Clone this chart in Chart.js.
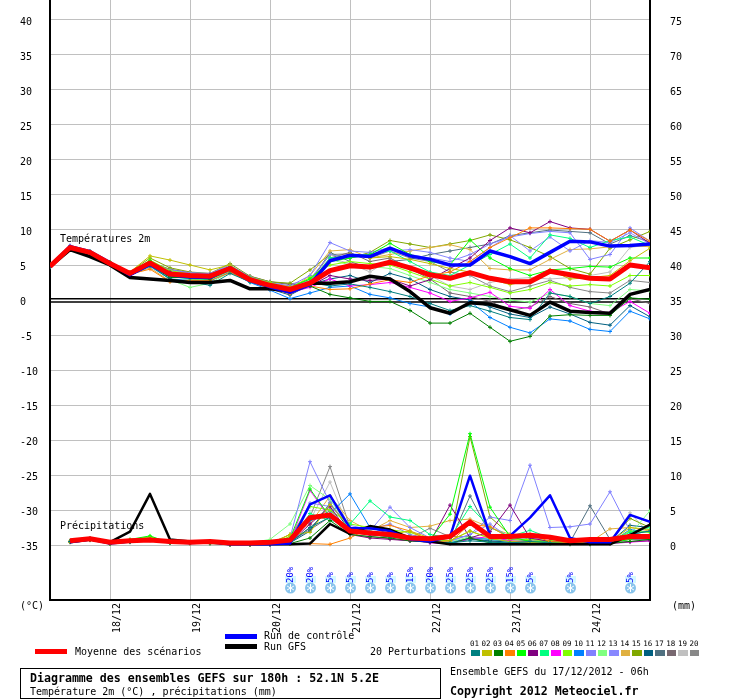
<!DOCTYPE html>
<html><head><meta charset="utf-8">
<script src="https://cdn.jsdelivr.net/npm/chart.js@4.4.0/dist/chart.umd.min.js"></script>
<style>
html,body{margin:0;padding:0;background:#fff;}
#wrap{position:relative;width:740px;height:700px;overflow:hidden;font-family:"DejaVu Sans Mono",monospace;color:#000;background:#fff;}
#c{position:absolute;left:0;top:0;}
.t{position:absolute;white-space:pre;font-size:10px;line-height:12px;}
.b{font-weight:bold;font-size:11.6px;line-height:14px;}
.sw{position:absolute;}
</style></head>
<body><div id="wrap"><canvas id="c" width="740" height="700"></canvas></div>
<script>
// ---- time axis (6-hourly steps from 17/12 06h) ----
const steps = [0,1,2,3,4,5,6,7,8,9,10,11,12,13,14,15,16,17,18,19,20,21,22,23,24,25,26,27,28,29,30];
const precipSteps = [1,2,3,4,5,6,7,8,9,10,11,12,13,14,15,16,17,18,19,20,21,22,23,24,25,26,27,28,29,30];
const dateSteps = [3,7,11,15,19,23,27];
const dateLabels = ["18/12","19/12","20/12","21/12","22/12","23/12","24/12"];
const tempTicks = [-35,-30,-25,-20,-15,-10,-5,0,5,10,15,20,25,30,35,40];
const mmTicks = [0,5,10,15,20,25,30,35,40,45,50,55,60,65,70,75];

// ---- temperature 2m (°C) ----
const tempMean    = [4.8,7.5,6.8,5.2,3.8,5.3,3.7,3.5,3.4,4.5,2.9,2.1,1.5,2.4,4.2,4.9,4.7,5.4,4.6,3.6,3.1,3.9,3.1,2.6,2.6,4.1,3.6,3.1,3.0,5.0,4.6];
const tempControl = [4.8,7.6,6.9,5.3,3.6,5.1,3.6,3.3,3.2,4.6,2.8,1.9,1.1,2.2,5.6,6.4,6.2,7.4,6.3,5.8,5.0,5.0,7.0,6.2,5.2,6.8,8.4,8.3,7.7,7.8,8.0];
const tempGFS     = [4.8,7.2,6.2,5.0,3.2,3.0,2.8,2.5,2.5,2.8,1.6,1.6,1.3,2.4,2.4,2.6,3.4,3.0,1.2,-1.1,-1.9,-0.4,-0.6,-1.4,-2.2,-0.3,-1.6,-1.8,-1.9,0.8,1.5];
const tempP01 = [4.7,7.6,6.9,5.3,3.5,4.9,3.0,2.6,2.1,3.8,2.6,1.9,1.2,2.5,2.0,2.3,1.8,1.2,0.5,-0.5,-1.5,-0.8,-1.6,-2.5,-2.8,1.0,0.5,-0.5,0.5,2.4,5.5];
const tempP02 = [4.9,7.4,6.8,5.4,4.0,6.3,5.7,5.0,4.3,5.0,3.0,2.3,1.9,2.5,5.5,6.6,6.0,6.2,5.8,5.2,4.5,4.0,3.0,2.2,2.8,4.3,3.0,3.2,3.5,5.6,7.4];
const tempP03 = [4.8,7.5,6.7,5.1,3.6,5.0,3.2,3.2,3.0,4.3,2.8,1.7,1.6,2.0,0.8,0.3,-0.2,-0.2,-1.5,-3.3,-3.3,-1.9,-3.9,-5.9,-5.2,-2.3,-2.1,-2.2,-2.2,0.3,0.1];
const tempP04 = [4.9,7.6,6.9,5.2,3.7,4.4,2.6,2.8,2.8,3.9,2.7,1.6,0.9,2.0,1.5,1.6,2.3,2.9,2.5,3.5,4.0,5.5,7.5,8.9,10.3,10.3,10.2,10.1,8.4,10.0,8.4];
const tempP05 = [4.8,7.5,6.8,5.4,3.9,5.6,3.5,3.4,3.5,4.7,3.1,2.2,1.8,3.0,5.5,6.0,6.5,8.1,6.5,5.5,5.0,8.6,6.0,4.5,3.5,4.3,4.5,4.8,4.7,6.0,6.0];
const tempP06 = [4.7,7.6,6.8,5.3,3.9,5.2,4.0,3.3,3.6,4.4,3.0,2.0,1.3,2.0,3.5,3.0,2.8,3.0,2.0,2.9,4.5,6.0,8.5,10.3,9.6,11.2,10.3,10.1,8.4,10.0,8.1];
const tempP07 = [4.8,7.5,6.9,5.3,3.8,5.4,3.4,3.0,2.9,4.2,2.6,1.9,1.4,2.5,6.0,6.3,6.5,7.0,5.5,4.0,3.5,5.0,6.5,8.0,6.0,9.3,8.8,7.5,8.5,9.0,7.8];
const tempP08 = [4.7,7.6,6.8,5.2,3.6,5.0,3.6,3.6,3.4,4.6,2.9,2.0,1.1,1.8,3.0,2.0,2.2,2.5,1.8,1.0,-0.2,0.3,1.1,-0.9,-1.2,1.5,-0.8,-1.6,-1.8,-0.2,-1.9];
const tempP09 = [4.8,7.5,6.8,5.3,3.9,5.7,4.2,3.7,3.5,4.8,3.2,2.5,1.7,3.2,5.0,5.5,5.2,5.0,4.0,3.0,2.0,2.5,1.8,1.0,1.5,2.5,2.0,2.2,2.0,3.5,3.5];
const tempP10 = [4.8,7.7,6.9,5.2,3.5,4.8,3.0,2.8,2.7,4.0,2.5,1.4,0.2,1.0,1.8,2.0,0.8,0.3,-0.5,-1.0,-2.0,-0.2,-2.5,-3.9,-4.7,-2.7,-3.0,-4.2,-4.5,-1.6,-2.7];
const tempP11 = [4.8,7.8,7.0,5.4,3.8,5.2,4.3,3.9,3.8,5.0,3.3,2.5,2.0,3.5,8.2,7.0,6.8,7.5,6.5,6.0,5.5,6.5,8.0,9.0,9.5,9.8,9.6,5.8,6.5,10.3,8.4];
const tempP12 = [4.8,7.5,6.8,5.2,3.7,5.1,2.9,1.8,2.4,4.0,2.7,1.8,1.0,2.8,5.8,5.0,4.8,4.5,3.5,2.5,1.5,1.0,0.5,0.0,-0.3,1.0,0.5,-0.5,-0.8,1.5,1.3];
const tempP13 = [4.8,7.6,6.9,5.3,3.8,5.3,4.1,3.8,3.7,4.9,3.2,2.4,1.8,3.0,6.5,6.0,6.6,7.0,7.2,6.8,6.0,5.5,7.5,9.2,7.0,9.0,7.0,8.5,8.2,9.6,8.0];
const tempP14 = [5.1,7.4,6.7,5.1,3.6,4.6,2.7,2.9,3.0,4.1,2.8,1.8,1.5,3.5,7.0,7.2,6.0,6.5,7.0,7.5,7.9,7.2,4.5,4.3,4.3,5.8,7.2,7.3,7.6,7.8,7.6];
const tempP15 = [4.8,7.5,6.8,5.4,4.0,6.0,4.6,4.0,3.8,5.2,3.4,2.6,2.4,4.3,6.5,6.0,6.8,8.5,8.0,7.5,8.0,8.5,9.3,8.6,7.5,6.2,4.5,3.7,7.4,8.6,9.8];
const tempP16 = [4.7,7.5,6.8,5.2,3.7,5.0,3.3,3.1,3.1,4.2,2.6,1.6,0.7,2.2,3.0,3.5,2.5,3.8,3.0,1.5,0.5,0.0,-1.0,-2.0,-2.5,-1.0,-2.0,-3.2,-3.6,-0.8,-2.4];
const tempP17 = [4.8,7.6,6.9,5.3,3.8,5.5,3.8,3.4,3.3,4.5,2.9,2.1,1.2,2.6,6.8,5.5,4.5,5.5,5.8,6.5,7.0,7.5,8.0,9.2,9.6,10.0,9.8,9.6,8.0,9.2,8.3];
const tempP18 = [4.8,7.5,6.8,5.3,3.9,5.4,4.4,3.9,3.7,4.8,3.4,2.6,2.2,2.3,6.0,6.8,5.5,6.0,4.5,3.0,1.0,0.5,-0.2,-1.5,-1.0,0.5,-0.5,-1.0,-2.0,0.2,-0.5];
const tempP19 = [4.8,7.5,6.8,5.3,3.8,5.2,4.0,3.6,3.6,4.6,3.3,2.4,2.0,2.9,6.0,5.2,4.0,5.8,4.5,3.5,2.0,1.5,2.5,3.0,3.2,3.0,3.2,3.5,4.0,7.5,7.9];
const tempP20 = [4.8,7.5,6.8,5.2,3.8,5.5,4.3,3.9,3.7,4.7,3.2,2.6,2.3,2.7,6.5,6.6,6.0,7.0,6.0,5.5,4.0,3.5,2.0,1.2,2.0,2.8,1.8,1.2,1.0,2.8,2.5];

// ---- precipitation (mm per 6h), steps 1..30 ----
const precMean    = [0.6,0.9,0.4,0.6,0.7,0.5,0.4,0.5,0.3,0.3,0.4,0.7,3.9,4.3,2.0,1.7,1.5,1.0,0.9,1.2,3.3,1.2,1.2,1.4,1.1,0.6,0.8,0.8,1.2,1.2];
const precControl = [0.4,0.8,0.2,0.5,0.7,0.4,0.3,0.4,0.1,0.1,0.1,0.2,5.8,7.1,2.4,2.4,2.0,0.8,0.5,1.2,9.9,1.4,1.3,3.9,7.1,1.0,0.4,0.4,4.3,3.3];
const precGFS     = [0.4,0.8,0.4,1.9,7.3,0.8,0.5,0.5,0.1,0.1,0.1,0.1,0.2,3.0,1.6,2.7,2.2,1.0,0.5,0.1,0.1,0.1,0.1,0.1,0.1,0.1,0.1,0.1,1.4,2.9];
const precP01 = [0.5,0.9,0.2,0.5,0.8,0.3,0.3,0.3,0.1,0.1,0.1,0.3,2.5,4.0,2.0,1.5,1.2,0.8,0.5,0.3,0.6,0.4,0.3,0.5,0.3,0.2,0.3,0.4,1.5,2.0];
const precP02 = [0.4,0.8,0.2,0.6,1.0,0.3,0.2,0.3,0.1,0.1,0.2,1.5,1.8,5.8,2.5,1.8,1.5,2.0,1.0,0.6,2.0,0.9,0.5,0.4,0.3,0.2,0.4,0.5,2.5,2.2];
const precP03 = [0.5,0.7,0.2,0.4,0.7,0.3,0.3,0.2,0.1,0.1,0.1,0.2,1.0,3.5,1.5,1.2,1.0,0.6,0.4,0.2,1.0,0.3,0.2,0.3,0.2,0.1,0.1,0.2,0.5,0.8];
const precP04 = [0.5,0.8,0.2,0.7,0.8,0.3,0.4,0.3,0.1,0.1,0.1,0.2,0.2,0.1,1.0,2.5,2.8,2.0,0.6,0.4,3.0,2.6,1.0,1.5,0.5,0.3,0.2,0.4,1.0,1.2];
const precP05 = [0.5,0.8,0.2,0.8,1.3,0.3,0.3,0.3,0.1,0.1,0.3,0.9,8.0,4.0,2.0,1.8,1.2,1.0,0.8,4.4,15.9,5.4,1.2,0.5,0.4,0.3,0.2,0.3,0.8,1.5];
const precP06 = [0.4,0.7,0.2,0.5,0.7,0.3,0.2,0.3,0.1,0.1,0.1,0.3,3.0,5.5,1.5,1.0,0.8,0.6,0.4,5.7,1.0,1.9,5.7,1.0,0.5,0.3,0.2,0.3,0.5,0.6];
const precP07 = [0.5,0.8,0.2,0.6,0.9,0.3,0.3,0.3,0.1,0.1,0.2,0.6,4.5,3.5,3.0,6.3,4.0,3.5,1.5,1.0,5.5,2.5,1.2,2.1,1.0,0.5,0.4,0.6,1.8,2.5];
const precP08 = [0.5,0.8,0.2,0.5,0.8,0.3,0.3,0.3,0.1,0.1,0.1,0.5,7.8,3.8,2.0,1.4,1.5,0.8,0.3,0.2,0.9,1.2,0.6,0.4,0.3,0.2,0.3,0.2,0.4,0.6];
const precP09 = [0.5,0.8,0.2,0.7,1.2,0.3,0.3,0.3,0.1,0.1,0.2,1.2,5.5,5.0,3.0,2.5,2.2,1.8,0.8,0.6,2.0,1.0,0.7,0.8,0.6,0.4,0.3,0.5,2.0,1.8];
const precP10 = [0.5,0.9,0.2,0.5,0.8,0.3,0.3,0.3,0.1,0.1,0.1,0.4,3.5,4.5,7.3,2.5,1.6,1.2,0.5,0.3,1.0,0.8,0.5,0.4,0.3,0.2,0.2,0.3,2.2,1.8];
const precP11 = [0.5,0.8,0.2,0.6,1.0,0.3,0.3,0.3,0.1,0.1,0.2,1.0,11.9,6.0,2.5,2.0,5.4,2.5,1.0,0.6,1.5,4.0,3.5,11.4,2.5,2.6,3.0,7.6,2.0,0.8];
const precP12 = [0.5,0.8,0.2,0.6,1.0,0.3,0.3,0.3,0.1,0.3,0.8,3.0,8.5,6.5,2.5,2.0,1.5,1.0,0.6,0.4,1.2,0.8,0.5,0.4,0.3,0.2,0.2,0.4,1.5,4.9];
const precP13 = [0.5,0.8,0.2,0.6,0.9,0.3,0.3,0.3,0.1,0.1,0.2,0.8,6.0,5.5,2.8,2.2,3.0,1.5,0.8,0.5,1.5,3.0,1.0,0.8,1.0,0.8,0.6,0.5,1.0,1.5];
const precP14 = [0.6,0.9,0.2,0.6,1.0,0.3,0.3,0.4,0.1,0.1,0.2,1.5,3.0,7.0,3.5,2.0,3.5,2.5,2.7,3.5,3.7,2.5,1.5,1.5,1.0,0.5,0.4,2.3,2.5,2.0];
const precP15 = [0.5,0.8,0.2,0.6,1.1,0.3,0.3,0.3,0.1,0.1,0.2,1.5,3.5,4.5,2.0,1.8,1.5,1.3,0.8,0.5,15.5,4.0,1.5,0.8,0.6,0.4,0.3,0.5,3.8,2.5];
const precP16 = [0.5,0.8,0.2,0.5,0.8,0.3,0.3,0.3,0.1,0.1,0.1,0.3,2.0,6.0,2.0,1.5,1.2,1.0,0.5,0.3,0.8,0.6,0.4,0.3,0.3,0.2,0.3,0.4,2.8,2.5];
const precP17 = [0.5,0.8,0.2,0.6,0.9,0.3,0.3,0.3,0.1,0.1,0.1,0.4,2.5,5.0,1.8,1.5,1.2,0.8,0.5,0.4,7.0,1.5,0.8,0.6,0.5,0.4,5.6,0.8,1.5,2.0];
const precP18 = [0.5,0.9,0.2,0.5,0.8,0.3,0.3,0.3,0.1,0.1,0.1,0.5,2.2,4.0,1.5,1.2,0.9,0.6,0.4,0.3,0.9,0.5,0.4,0.3,0.3,0.2,0.2,0.3,0.8,0.8];
const precP19 = [0.5,0.8,0.2,0.6,1.0,0.3,0.3,0.3,0.1,0.1,0.1,0.5,3.5,9.0,2.0,1.8,1.2,0.8,0.5,0.3,1.0,0.6,0.4,0.4,0.3,0.2,0.3,0.5,4.6,1.5];
const precP20 = [0.5,1.0,0.2,0.6,1.0,0.3,0.3,0.3,0.1,0.1,0.2,0.8,4.0,11.2,2.5,2.0,1.5,1.0,2.4,1.2,1.2,0.8,0.5,0.4,0.3,0.3,0.3,0.4,1.0,1.0];

// ---- snow probability markers ----
const snowSteps = [12,13,14,15,16,17,18,19,20,21,22,23,24,26,29];
const snowPct   = [20,20,5,5,5,5,15,20,25,25,25,15,5,5,5];

// ---- members ----
const memberNames  = ["01","02","03","04","05","06","07","08","09","10","11","12","13","14","15","16","17","18","19","20"];
const memberColors = ["#008080","#c0c000","#008000","#ff8000","#00ff00","#800080","#00ff80","#ff00ff","#80ff00","#0080ff","#8080ff","#80ff80","#8888ff","#e0b040","#80a800","#006080","#507080","#786870","#c0c0c0","#888888"];
const memberTemps = [tempP01,tempP02,tempP03,tempP04,tempP05,tempP06,tempP07,tempP08,tempP09,tempP10,tempP11,tempP12,tempP13,tempP14,tempP15,tempP16,tempP17,tempP18,tempP19,tempP20];
const memberPrecs = [precP01,precP02,precP03,precP04,precP05,precP06,precP07,precP08,precP09,precP10,precP11,precP12,precP13,precP14,precP15,precP16,precP17,precP18,precP19,precP20];

const FONT = '"DejaVu Sans Mono", monospace';
const pts = (xs, ys) => xs.map((x, i) => ({x: x, y: ys[i]}));

const datasets = [];
function thin(data, color, axis) {
  return {data, yAxisID: axis, borderColor: color, backgroundColor: color, borderWidth: 1,
    pointStyle: 'cross', pointRadius: 2, pointBorderWidth: 1, pointBorderColor: color, order: 10, fill: false};
}
function thick(data, color, w, axis, ord) {
  return {data, yAxisID: axis, borderColor: color, backgroundColor: color, borderWidth: w,
    pointRadius: 0, order: ord, fill: false, borderJoinStyle: 'round'};
}
memberTemps.forEach((a, i) => datasets.push(thin(pts(steps, a), memberColors[i], 'y')));
memberPrecs.forEach((a, i) => datasets.push(thin(pts(precipSteps, a), memberColors[i], 'y2')));
datasets.push(thick(pts(steps, tempGFS), '#000000', 3.5, 'y', 3));
datasets.push(thick(pts(precipSteps, precGFS), '#000000', 2.5, 'y2', 3));
datasets.push(thick(pts(steps, tempControl), '#0000ff', 3.5, 'y', 2));
datasets.push(thick(pts(precipSteps, precControl), '#0000ff', 2.5, 'y2', 2));
datasets.push(thick(pts(steps, tempMean), '#ff0000', 5, 'y', 1));
datasets.push(thick(pts(precipSteps, precMean), '#ff0000', 5, 'y2', 1));

const zeroLine = {
  id: 'zeroLine',
  beforeDatasetsDraw(chart) {
    const {ctx, chartArea, scales} = chart;
    const y0 = scales.y.getPixelForValue(0);
    ctx.save();
    ctx.strokeStyle = '#000';
    ctx.lineWidth = 1.6;
    ctx.beginPath();
    ctx.moveTo(chartArea.left, y0 - 1.2); ctx.lineTo(chartArea.right, y0 - 1.2);
    ctx.moveTo(chartArea.left, y0 + 2.0); ctx.lineTo(chartArea.right, y0 + 2.0);
    ctx.stroke();
    ctx.restore();
  }
};

const annotations = {
  id: 'annotations',
  afterDatasetsDraw(chart) {
    const {ctx, chartArea, scales} = chart;
    ctx.save();
    ctx.fillStyle = '#000';
    ctx.font = '10px ' + FONT;
    ctx.textBaseline = 'middle';
    ctx.textAlign = 'left';
    ctx.fillText('Températures 2m', chartArea.left + 10, 239);
    ctx.fillText('Précipitations', chartArea.left + 10, 526);
    // snow icons
    snowSteps.forEach((s, i) => {
      const x = Math.round(scales.x.getPixelForValue(s));
      const cy = 588;
      ctx.fillStyle = '#d4f8ff';
      ctx.fillRect(x - 5, 576, 11, 7);
      ctx.save();
      ctx.translate(x + 0.5, 583);
      ctx.rotate(-Math.PI / 2);
      ctx.fillStyle = '#0000ff';
      ctx.font = '9px ' + FONT;
      ctx.textAlign = 'left';
      ctx.textBaseline = 'middle';
      ctx.fillText(snowPct[i] + '%', 0, 0);
      ctx.restore();
      ctx.beginPath();
      ctx.arc(x + 0.5, cy, 5.5, 0, Math.PI * 2);
      ctx.fillStyle = '#88c4ec';
      ctx.fill();
      ctx.strokeStyle = '#ffffff';
      ctx.lineWidth = 1;
      ctx.beginPath();
      for (let k = 0; k < 3; k++) {
        const a = k * Math.PI / 3 + Math.PI / 2;
        ctx.moveTo(x + 0.5 + Math.cos(a) * 4, cy + Math.sin(a) * 4);
        ctx.lineTo(x + 0.5 - Math.cos(a) * 4, cy - Math.sin(a) * 4);
      }
      ctx.stroke();
    });
    ctx.restore();
  }
};

function noPad(s) { s.paddingTop = 0; s.paddingBottom = 0; s.paddingLeft = 0; s.paddingRight = 0; }

new Chart(document.getElementById('c'), {
  type: 'line',
  data: {datasets},
  options: {
    responsive: false,
    animation: false,
    devicePixelRatio: 1,
    layout: {padding: {left: 20, right: 0, top: 0, bottom: 0}, autoPadding: false},
    plugins: {legend: {display: false}, tooltip: {enabled: false}},
    elements: {line: {tension: 0}},
    scales: {
      x: {
        type: 'linear', position: 'bottom', min: 0, max: 30,
        afterBuildTicks: s => { s.ticks = dateSteps.map(v => ({value: v})); },
        ticks: {minRotation: 90, maxRotation: 90, labelOffset: 7, padding: 3, autoSkip: false,
          color: '#000', font: {family: FONT, size: 10},
          callback: v => dateLabels[dateSteps.indexOf(v)]},
        grid: {color: '#c0c0c0', lineWidth: 1, drawTicks: false},
        border: {color: '#000', width: 2},
        afterFit: s => { s.height = 100; noPad(s); }
      },
      y: {
        position: 'left', min: -300 / 7, max: 300 / 7,
        afterBuildTicks: s => { s.ticks = tempTicks.map(v => ({value: v})); },
        ticks: {crossAlign: 'far', padding: 0, labelOffset: 2, color: '#000', font: {family: FONT, size: 10},
          callback: v => String(v)},
        grid: {color: c => (c.tick && c.tick.value === 0) ? 'rgba(0,0,0,0)' : '#c0c0c0', lineWidth: 1, drawTicks: false},
        border: {color: '#000', width: 2},
        afterFit: s => { s.width = 30; noPad(s); }
      },
      y2: {
        position: 'right', min: -300 / 7 + 35, max: 300 / 7 + 35,
        afterBuildTicks: s => { s.ticks = mmTicks.map(v => ({value: v})); },
        ticks: {padding: 20, labelOffset: 2, color: '#000', font: {family: FONT, size: 10}, callback: v => String(v)},
        grid: {display: false, drawTicks: false},
        border: {color: '#000', width: 2},
        afterFit: s => { s.width = 90; noPad(s); }
      }
    }
  },
  plugins: [zeroLine, annotations]
});

// ---- legend & titles (HTML text) ----
const wrap = document.getElementById('wrap');
function txt(s, l, t, cls) {
  const d = document.createElement('div');
  d.className = 't' + (cls ? ' ' + cls : '');
  d.textContent = s; d.style.left = l + 'px'; d.style.top = t + 'px';
  wrap.appendChild(d); return d;
}
function sw(l, t, w, h, col) {
  const d = document.createElement('div');
  d.className = 'sw';
  Object.assign(d.style, {left: l + 'px', top: t + 'px', width: w + 'px', height: h + 'px', background: col});
  wrap.appendChild(d); return d;
}
txt('(°C)', 20, 600);
txt('(mm)', 672, 600);
sw(35, 649, 32, 5, '#ff0000');
txt('Moyenne des scénarios', 75, 646);
sw(225, 634, 32, 5, '#0000ff');
txt('Run de contrôle', 264, 630);
sw(225, 644, 32, 5, '#000000');
txt('Run GFS', 264, 641);
txt('20 Perturbations', 370, 646);
memberNames.forEach((n, i) => {
  const l = 470.5 + i * 11.55;
  const d = txt(n, l - 0.5, 639);
  d.style.fontSize = '7.5px'; d.style.lineHeight = '9px';
  sw(l, 650, 9.5, 6, memberColors[i]);
});
const box = document.createElement('div');
Object.assign(box.style, {position: 'absolute', left: '20px', top: '668px', width: '419px', height: '29px', border: '1px solid #000'});
wrap.appendChild(box);
txt('Diagramme des ensembles GEFS sur 180h : 52.1N 5.2E', 30, 671, 'b');
txt('Température 2m (°C) , précipitations (mm)', 30, 686);
txt('Ensemble GEFS du 17/12/2012 - 06h', 450, 666);
txt('Copyright 2012 Meteociel.fr', 450, 684, 'b');
</script>
</body></html>
